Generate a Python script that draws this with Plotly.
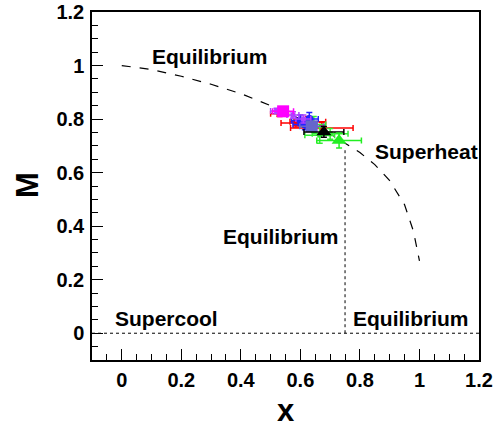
import plotly.graph_objects as go

# Equilibrium curve
curve_x = [0.0, 0.1, 0.2, 0.3, 0.4, 0.5, 0.6, 0.7, 0.8, 0.85, 0.9, 0.95, 0.98, 1.0]
curve_m = [1.0, 0.985, 0.96, 0.93, 0.895, 0.85, 0.80, 0.745, 0.675, 0.63, 0.57, 0.48, 0.38, 0.27]

# boundary lines
hline_x = [-0.1, 1.2]
hline_m = [0.0, 0.0]
vline_x = [0.75, 0.75]
vline_m = [0.0, 0.69]

# measurement series
red_x = [0.53, 0.585, 0.625, 0.672]
red_m = [0.82, 0.785, 0.79, 0.767]
red_ex = [0.03, 0.05, 0.06, 0.105]
red_em = [0.01, 0.015, 0.02, 0.02]

greens_x = [0.645, 0.665, 0.70]
greens_m = [0.78, 0.74, 0.745]
greens_ex = [0.04, 0.05, 0.06]
greens_em = [0.03, 0.03, 0.02]

blue_x = [0.60, 0.615, 0.63]
blue_m = [0.795, 0.78, 0.80]
blue_ex = [0.03, 0.04, 0.03]
blue_em = [0.02, 0.02, 0.025]

violet_x = [0.52, 0.575, 0.61]
violet_m = [0.83, 0.815, 0.80]
violet_ex = [0.02, 0.02, 0.025]
violet_em = [0.01, 0.012, 0.015]

magenta_x = [0.542]
magenta_m = [0.829]
magenta_ex = [0.035]
magenta_em = [0.012]

slate_x = [0.638]
slate_m = [0.773]
slate_ex = [0.04]
slate_em = [0.015]

black_x = [0.679]
black_m = [0.752]
black_ex = [0.067]
black_em = [0.02]

green_x = [0.73]
green_m = [0.72]
green_ex = [0.075]
green_em = [0.028]

labels = ["Equilibrium", "Superheat", "Equilibrium", "Supercool", "Equilibrium"]
label_x = [0.296, 1.025, 0.535, 0.149, 0.973]
label_m = [1.034, 0.678, 0.363, 0.056, 0.056]

FONT = "Liberation Sans"

fig = go.Figure()
fig.add_trace(go.Scatter(x=curve_x, y=curve_m, mode="lines",
                         line=dict(color="black", width=1.2, dash="dash")))
fig.add_trace(go.Scatter(x=hline_x, y=hline_m, mode="lines",
                         line=dict(color="black", width=1, dash="dot")))
fig.add_trace(go.Scatter(x=vline_x, y=vline_m, mode="lines",
                         line=dict(color="black", width=1, dash="dot")))

def pts(x, y, ex, ey, color, symbol, size):
    fig.add_trace(go.Scatter(
        x=x, y=y, mode="markers",
        marker=dict(color=color, symbol=symbol, size=size),
        error_x=dict(type="data", array=ex, color=color, thickness=1.5, width=3),
        error_y=dict(type="data", array=ey, color=color, thickness=1.5, width=3),
    ))

pts(red_x, red_m, red_ex, red_em, "#ff0000", "square", 6)
pts(greens_x, greens_m, greens_ex, greens_em, "#33ee33", "square", 5)
pts(blue_x, blue_m, blue_ex, blue_em, "#2222ff", "circle", 8)
pts(violet_x, violet_m, violet_ex, violet_em, "#b040ff", "square", 5)
pts(magenta_x, magenta_m, magenta_ex, magenta_em, "#ff00ff", "square", 12)
pts(slate_x, slate_m, slate_ex, slate_em, "#6666cc", "square", 12)
pts(black_x, black_m, black_ex, black_em, "#000000", "triangle-up", 13)
pts(green_x, green_m, green_ex, green_em, "#22ee22", "triangle-up", 13)

for t, x, y in zip(labels, label_x, label_m):
    fig.add_annotation(x=x, y=y, text="<b>" + t + "</b>", showarrow=False,
                       font=dict(family=FONT, size=21, color="black"),
                       xanchor="center", yanchor="middle")

# axis titles
fig.add_annotation(x=0.501, y=-0.146, xref="paper", yref="paper", text="<b>x</b>",
                   showarrow=False, font=dict(family=FONT, size=31, color="black"),
                   xanchor="center", yanchor="middle")
fig.add_annotation(x=-0.165, y=0.503, xref="paper", yref="paper", text="<b>M</b>",
                   showarrow=False, textangle=-90, font=dict(family=FONT, size=31, color="black"),
                   xanchor="center", yanchor="middle")

axis_common = dict(
    showline=True, linecolor="black", linewidth=1.5, mirror=True,
    showgrid=False, zeroline=False, automargin=False,
    ticks="inside", ticklen=11, tickwidth=1, tickcolor="black",
    tickfont=dict(family=FONT, size=20, color="black"),
    dtick=0.2, tick0=0, tickformat="~g",
    tickprefix="<b>", ticksuffix="</b>",
    minor=dict(ticks="inside", ticklen=6, tickwidth=1, tickcolor="black",
               dtick=0.05, tick0=0, showgrid=False),
)

fig.update_xaxes(range=[-0.1, 1.2], ticklabelstandoff=1, **axis_common)
fig.update_yaxes(range=[-0.1, 1.2], ticklabelstandoff=2, **axis_common)

fig.update_layout(
    width=495, height=427,
    margin=dict(l=92, r=16, t=12, b=67),
    paper_bgcolor="white", plot_bgcolor="white",
    showlegend=False,
    font=dict(family=FONT, color="black"),
)

fig.write_html("out.html", config={"displayModeBar": False},
               post_script="document.body.style.margin='0';")
